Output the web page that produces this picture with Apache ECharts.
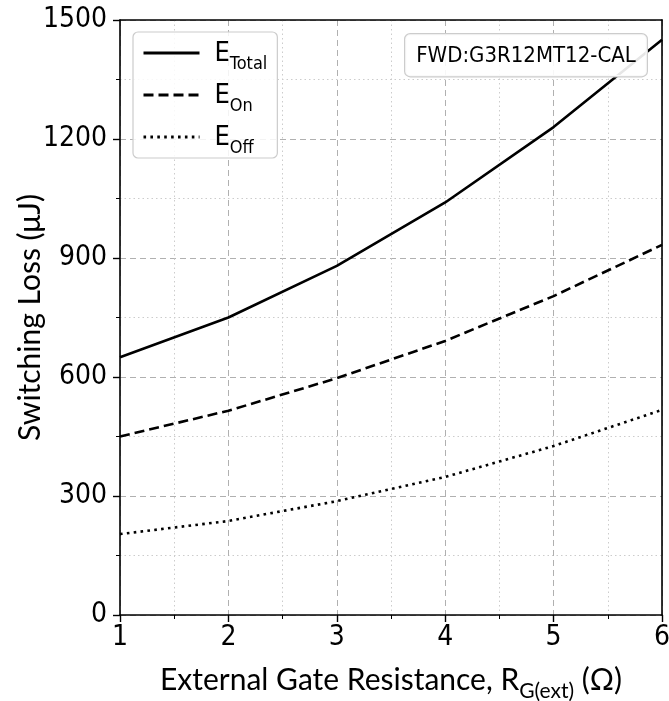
<!DOCTYPE html>
<html>
<head>
<meta charset="utf-8">
<script src="https://cdn.jsdelivr.net/npm/echarts@6/dist/echarts.min.js"></script>
<style>
  html, body { margin: 0; padding: 0; background: #fff; }
  #chart { width: 669px; height: 701px; }
</style>
</head>
<body>
<div id="chart"></div>
<script>
// External gate resistance (Ω)
const gateResistance = [1, 2, 3, 4, 5, 6];
// Switching energies (µJ)
const eTotal = [650, 750, 880, 1040, 1230, 1450];
const eOn = [450, 515, 597, 691, 804, 933];
const eOff = [204, 237, 287, 348, 426, 517];

const seriesNames = ['E_Total', 'E_On', 'E_Off'];
const seriesSubs = { 'E_Total': 'Total', 'E_On': 'On', 'E_Off': 'Off' };
const deviceLabel = 'FWD:G3R12MT12-CAL';

const tickFont = '"Liberation Sans Narrow", "DejaVu Sans Condensed", Roboto, sans-serif';
const titleFont = 'Lato, "Noto Sans", sans-serif';

function pairs(ys) { return gateResistance.map((x, i) => [x, ys[i]]); }

const chart = echarts.init(document.getElementById('chart'), null, { renderer: 'canvas' });

const axisCommon = {
  axisLine: { show: true, lineStyle: { color: '#000', width: 1.6 } },
  axisTick: { show: true, inside: false, length: 7, lineStyle: { color: '#000', width: 1.4 } },
  minorTick: { show: true, splitNumber: 2, length: 4, lineStyle: { color: '#000', width: 1 } },
  splitLine: { show: true, lineStyle: { color: '#b0b0b0', type: [6, 4], width: 1 } },
  minorSplitLine: { show: true, lineStyle: { color: '#cccccc', type: [1.5, 3], width: 1 } },
  axisLabel: { color: '#000', fontFamily: tickFont, fontSize: 28, formatter: v => String(v) },
  nameTextStyle: { color: '#000', fontFamily: titleFont, fontSize: 30 },
  nameMoveOverlap: false
};

// Plain frame lines for the top and right edges of the plot box
const frameAxis = {
  show: true,
  axisLine: { show: true, onZero: false, lineStyle: { color: '#000', width: 1.6 } },
  axisTick: { show: false }, minorTick: { show: false },
  axisLabel: { show: false }, splitLine: { show: false }, minorSplitLine: { show: false }
};

chart.setOption({
  animation: false,
  backgroundColor: '#fff',
  grid: {
    left: 120, right: 7, top: 20, bottom: 86,
    outerBoundsMode: 'none', containLabel: false
  },
  xAxis: [
    Object.assign({}, axisCommon, {
      type: 'value', min: 1, max: 6, interval: 1, position: 'bottom',
      axisLabel: Object.assign({}, axisCommon.axisLabel, { margin: 9 }),
      name: '{t|External Gate Resistance, R}{s|G(ext)}{t| (Ω)}',
      nameLocation: 'middle', nameGap: 46,
      nameTextStyle: {
        rich: {
          t: { fontFamily: titleFont, fontSize: 30, color: '#000', verticalAlign: 'bottom', lineHeight: 34 },
          s: { fontFamily: titleFont, fontSize: 21, color: '#000', verticalAlign: 'bottom', lineHeight: 34, padding: [0, 0, -7, 0] }
        }
      }
    }),
    Object.assign({}, frameAxis, { type: 'value', min: 1, max: 6, position: 'top' })
  ],
  yAxis: [
    Object.assign({}, axisCommon, {
      type: 'value', min: 0, max: 1500, interval: 300, position: 'left',
      axisLabel: Object.assign({}, axisCommon.axisLabel, { margin: 13 }),
      name: 'Switching Loss (μJ)',
      nameLocation: 'middle', nameGap: 75, nameRotate: 90
    }),
    Object.assign({}, frameAxis, { type: 'value', min: 0, max: 1500, position: 'right' })
  ],
  legend: {
    left: 133, top: 32, orient: 'vertical',
    itemWidth: 56, itemHeight: 16, itemGap: 9,
    padding: [8, 10, 1, 9],
    borderColor: '#cccccc', borderWidth: 1.2, borderRadius: 5,
    backgroundColor: 'rgba(255,255,255,0.85)',
    itemStyle: { opacity: 0 },
    lineStyle: { width: 3 },
    data: seriesNames,
    formatter: n => '{b|E}{s|' + seriesSubs[n] + '}',
    textStyle: {
      padding: [0, 0, 0, 10],
      rich: {
        b: { fontFamily: tickFont, fontSize: 27, color: '#000', verticalAlign: 'bottom', lineHeight: 28 },
        s: { fontFamily: tickFont, fontSize: 18, color: '#000', verticalAlign: 'bottom', lineHeight: 28, padding: [0, 0, -6, 0] }
      }
    }
  },
  graphic: [{
    type: 'text', right: 21, top: 33, z: 100,
    style: {
      text: deviceLabel,
      font: '22px ' + tickFont,
      fill: '#000',
      backgroundColor: 'rgba(255,255,255,0.9)',
      borderColor: '#cccccc', borderWidth: 1.2, borderRadius: 5,
      padding: [11, 11, 9, 11]
    }
  }],
  series: [
    { name: 'E_Total', type: 'line', data: pairs(eTotal), symbol: 'none',
      lineStyle: { color: '#000', width: 2.6, type: 'solid' }, itemStyle: { color: '#000' } },
    { name: 'E_On', type: 'line', data: pairs(eOn), symbol: 'none',
      lineStyle: { color: '#000', width: 2.6, type: [10, 5] }, itemStyle: { color: '#000' } },
    { name: 'E_Off', type: 'line', data: pairs(eOff), symbol: 'none',
      lineStyle: { color: '#000', width: 2.6, type: [2.6, 4.3] }, itemStyle: { color: '#000' } }
  ]
});
</script>
</body>
</html>
